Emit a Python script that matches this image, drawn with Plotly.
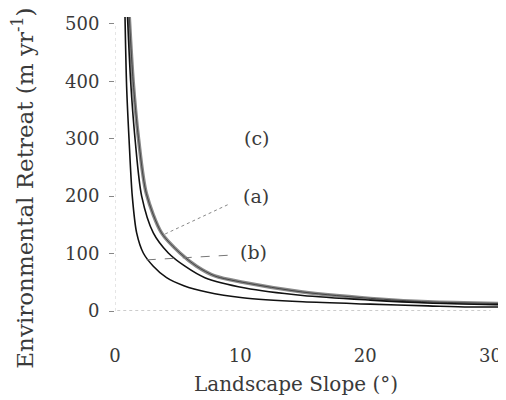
import plotly.graph_objects as go

# Curve (b) - lowest
slope_b = [0.80, 0.93, 1.12, 1.38, 1.73, 2.26, 3.06, 4.12, 5.5, 7.32, 10.2, 15, 20.4, 25, 28.3, 31]
retreat_b = [512, 390, 300, 200, 136, 101, 78, 58, 44, 33, 23, 16, 12, 9, 7, 7]

# Curve (a) - middle
slope_a = [1.00, 1.25, 1.60, 2.13, 3.06, 4.26, 5.59, 7.18, 10.4, 15, 20.4, 25, 31]
retreat_a = [512, 400, 300, 200, 136, 101, 78, 58, 40, 27, 19, 14, 11]

# Curve (c) - upper (grey band)
slope_c = [1.14, 1.45, 1.88, 2.50, 3.72, 5.19, 6.52, 7.98, 10.2, 15, 20.4, 25, 31]
retreat_c = [512, 400, 300, 205, 136, 101, 78, 61, 50, 33, 22, 16, 13]

x_ticks = [0, 10, 20, 30]
y_ticks = [0, 100, 200, 300, 400, 500]

labels = ["(c)", "(a)", "(b)"]
label_x = [11.3, 11.3, 11.1]
label_y = [302, 200, 102]

FONT = "DejaVu Serif"
TXT = "#3a3a3a"

fig = go.Figure()
fig.add_trace(go.Scatter(x=slope_c, y=retreat_c, mode="lines", line=dict(color="#8a8a8a", width=3.5, shape="spline", smoothing=0.8), hoverinfo="skip"))
fig.add_trace(go.Scatter(x=slope_c, y=retreat_c, mode="lines", line=dict(color="#333", width=0.8, shape="spline", smoothing=0.8), hoverinfo="skip"))
fig.add_trace(go.Scatter(x=slope_a, y=retreat_a, mode="lines", line=dict(color="#111", width=1.6, shape="spline", smoothing=0.8), hoverinfo="skip"))
fig.add_trace(go.Scatter(x=slope_b, y=retreat_b, mode="lines", line=dict(color="#111", width=1.6, shape="spline", smoothing=0.8), hoverinfo="skip"))

# label text
for t, lx, ly in zip(labels, label_x, label_y):
    fig.add_annotation(x=lx, y=ly, text=t, showarrow=False, xanchor="center", yanchor="middle",
                       font=dict(family=FONT, size=19, color=TXT))

# leader lines
fig.add_shape(type="line", x0=9.0, y0=185, x1=3.8, y1=132, xref="x", yref="y",
              line=dict(color="#888", width=1, dash="dot"))
fig.add_shape(type="line", x0=9.0, y0=97, x1=2.5, y1=89, xref="x", yref="y",
              line=dict(color="#777", width=1, dash="dash"))

# axis lines (dotted)
fig.add_shape(type="line", x0=-0.3, y0=0, x1=30, y1=0, xref="x", yref="y",
              line=dict(color="#999", width=1, dash="dot"))
fig.add_shape(type="line", x0=30, y0=0, x1=30, y1=-6, xref="x", yref="y",
              line=dict(color="#999", width=1))
fig.add_shape(type="line", x0=0, y0=0, x1=0, y1=500, xref="x", yref="y",
              line=dict(color="#ccc", width=1, dash="dot"))

# axis titles as annotations for precise placement
fig.add_annotation(xref="paper", yref="paper", x=0, y=0.416, xshift=-92, text="Environmental Retreat (m yr<sup>-1</sup>)",
                   textangle=-90, showarrow=False, xanchor="center", yanchor="middle",
                   font=dict(family=FONT, size=23, color=TXT))
fig.add_annotation(xref="paper", yref="paper", x=0, y=0, xshift=181, yshift=-73, text="Landscape Slope (°)",
                   showarrow=False, xanchor="center", yanchor="middle",
                   font=dict(family=FONT, size=20, color=TXT))

# page body has an 8px margin, so the figure is sized to fit the 506x400 window
fig.update_layout(
    width=498, height=392,
    margin=dict(l=107, r=2.5, t=9, b=88.5),
    paper_bgcolor="white", plot_bgcolor="white",
    showlegend=False,
    font=dict(family=FONT, color=TXT),
)
fig.update_xaxes(range=[0, 31], tickvals=x_ticks, ticktext=[str(v) for v in x_ticks],
                 showgrid=False, zeroline=False, showline=False, ticks="", automargin=False,
                 ticklabeloverflow="allow",
                 tickfont=dict(family=FONT, size=18, color=TXT), ticklabelstandoff=32)
fig.update_yaxes(range=[0, 512], tickvals=y_ticks, ticktext=[str(v) for v in y_ticks],
                 showgrid=False, zeroline=False, showline=False, ticks="outside", ticklen=5,
                 tickcolor="#888", tickwidth=1, automargin=False,
                 tickfont=dict(family=FONT, size=18, color=TXT), ticklabelstandoff=6)

fig.write_html("out.html")
